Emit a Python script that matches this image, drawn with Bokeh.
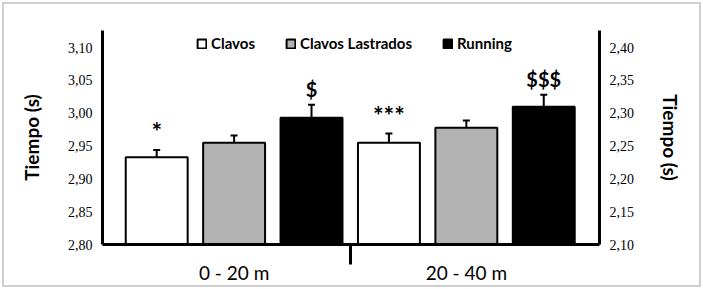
import numpy as np
from bokeh.plotting import figure
from bokeh.models import (Range1d, LinearAxis, FixedTicker, Whisker, ColumnDataSource,
                          Legend, LegendItem, CustomJSTickFormatter)
from bokeh.core.properties import value
from bokeh.embed import file_html
from bokeh.resources import INLINE

# ---- data ----
groups = ["0 - 20 m", "20 - 40 m"]
series = ["Clavos", "Clavos Lastrados", "Running"]
colors = ["#ffffff", "#b3b3b3", "#000000"]
means_0_20 = [2.933, 2.955, 2.993]
err_0_20 = [0.011, 0.011, 0.020]
means_20_40 = [2.255, 2.278, 2.310]
err_20_40 = [0.014, 0.011, 0.018]
marks_0_20 = ["*", "", "$"]
marks_20_40 = ["***", "", "$$$"]
left_ticks = [2.80, 2.85, 2.90, 2.95, 3.00, 3.05, 3.10]
right_ticks = [2.10, 2.15, 2.20, 2.25, 2.30, 2.35, 2.40]
left_base = 2.80
right_base = 2.10

FONT = "Lato"

p = figure(frame_width=497, frame_height=214, output_backend="svg", toolbar_location=None,
           x_range=Range1d(-0.7, 5.72), y_range=Range1d(2.80, 3.126),
           min_border_left=102, min_border_right=104, min_border_top=30, min_border_bottom=45,
           styles={"box-shadow": "inset 0 0 0 2px #ffffff, inset 0 0 0 4px #cfcfcf",
                   "background-color": "#ffffff"})
p.extra_y_ranges = {"right": Range1d(2.10, 2.426)}
p.outline_line_color = None
p.xgrid.grid_line_color = None
p.ygrid.grid_line_color = None
p.background_fill_color = "white"
p.border_fill_alpha = 0

n = len(series)
x1 = np.arange(n)
x2 = np.arange(n) + n


def mark_sizes(marks):
    return ["25px" if "*" in m else "20px" for m in marks]


src1 = ColumnDataSource(dict(x=x1, top=means_0_20, up=np.array(means_0_20) + np.array(err_0_20),
                             color=colors, label=series, mark=marks_0_20,
                             fs=mark_sizes(marks_0_20)))
src2 = ColumnDataSource(dict(x=x2, top=means_20_40, up=np.array(means_20_40) + np.array(err_20_40),
                             color=colors, label=series, mark=marks_20_40,
                             fs=mark_sizes(marks_20_40)))

r1 = p.vbar(x="x", top="top", bottom=left_base, width=0.8, fill_color="color",
            line_color="black", line_width=2, source=src1)
r2 = p.vbar(x="x", top="top", bottom=right_base, width=0.8, fill_color="color",
            line_color="black", line_width=2, source=src2, y_range_name="right")

for src, rn in ((src1, "default"), (src2, "right")):
    w = Whisker(base="x", lower="top", upper="up", source=src, y_range_name=rn,
                line_color="black", line_width=2, lower_head=None)
    w.upper_head.size = 7
    w.upper_head.line_width = 2
    p.add_layout(w)

p.text(x="x", y="up", text="mark", source=src1, text_align="center", text_baseline="bottom",
       y_offset=-4, text_font=value(FONT), text_font_style="bold", text_font_size="fs",
       text_color="black")
p.text(x="x", y="up", text="mark", source=src2, text_align="center", text_baseline="bottom",
       y_offset=-4, text_font=value(FONT), text_font_style="bold", text_font_size="fs",
       text_color="black", y_range_name="right")

fmt_code = "return tick.toFixed(2).replace('.', ',');"

ya = p.yaxis[0]
ya.ticker = FixedTicker(ticks=left_ticks)
ya.formatter = CustomJSTickFormatter(code=fmt_code)
ya.axis_label = "Tiempo (s)"

ra = LinearAxis(y_range_name="right", ticker=FixedTicker(ticks=right_ticks),
                formatter=CustomJSTickFormatter(code=fmt_code),
                axis_label="Tiempo (s)")
p.add_layout(ra, "right")

for ax in (ya, ra):
    ax.axis_line_width = 3
    ax.axis_line_color = "black"
    ax.major_tick_line_color = None
    ax.minor_tick_line_color = None
    ax.major_tick_out = 0
    ax.major_tick_in = 0
    ax.major_label_standoff = 10
    ax.major_label_text_font = "Liberation Serif"
    ax.major_label_text_font_size = "14px"
    ax.major_label_text_color = "black"
    ax.axis_label_text_font = FONT
    ax.axis_label_text_font_style = "bold"
    ax.axis_label_text_font_size = "19px"
    ax.axis_label_text_color = "black"
    ax.axis_label_standoff = 22

xa = p.xaxis[0]
xa.ticker = FixedTicker(ticks=[1, 4], minor_ticks=[2.5])
xa.major_label_overrides = {1: groups[0], 4: groups[1]}
xa.axis_line_width = 3
xa.axis_line_color = "black"
xa.major_tick_line_color = None
xa.major_tick_out = 0
xa.major_tick_in = 0
xa.minor_tick_line_color = "black"
xa.minor_tick_line_width = 3
xa.minor_tick_out = 20
xa.minor_tick_in = 0
xa.major_label_standoff = -4
xa.major_label_text_font = FONT
xa.major_label_text_font_size = "19px"
xa.major_label_text_color = "black"

legend = Legend(items=[LegendItem(label=series[i], renderers=[r1], index=i) for i in range(n)],
                orientation="horizontal", location=(94, 192), padding=0, margin=0,
                spacing=30, glyph_width=11, glyph_height=11, label_height=13,
                label_standoff=4, label_text_font=FONT, label_text_font_style="bold",
                label_text_font_size="15px", label_text_color="black",
                border_line_color=None, background_fill_alpha=0)
p.add_layout(legend)

open("out.html", "w").write(file_html(p, INLINE))
